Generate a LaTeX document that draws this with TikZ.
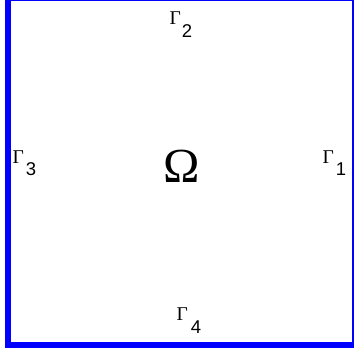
\documentclass[tikz,border=0pt]{standalone}
\usepackage{fontspec}
\setmainfont{Liberation Sans}
\newfontfamily\serifont{Liberation Serif}
\newcommand\gamsub[3]{{\serifont\fontsize{19.5}{19.5}\selectfont Γ}\kern#2\raisebox{-#3}{#1}}
\tikzset{
  lbl/.style={inner sep=0pt, anchor=base west, font=\fontsize{18.5}{18.5}\selectfont},
  edge/.style={draw=blue, line width=6pt}
}
\begin{document}
\begin{tikzpicture}[x=1pt,y=1pt]
\useasboundingbox (0,0) rectangle (354,350);
\clip (0,0) rectangle (354,350);
\path[edge] (7.5,5) rectangle (354.5,351.5);
\node[lbl] (g2) at (169.5,325) {\gamsub{2}{1pt}{13pt}};
\node[lbl] (g3) at (12.5,186) {\gamsub{3}{2pt}{12pt}};
\node[lbl] (g1) at (322.5,186) {\gamsub{1}{2pt}{12pt}};
\node[lbl] (g4) at (176.5,29.5) {\gamsub{4}{3pt}{13.5pt}};
\node[inner sep=0pt, anchor=base, font=\serifont\fontsize{49}{49}\selectfont] (omega) at (181.7,167.5) {Ω};
\end{tikzpicture}
\end{document}
